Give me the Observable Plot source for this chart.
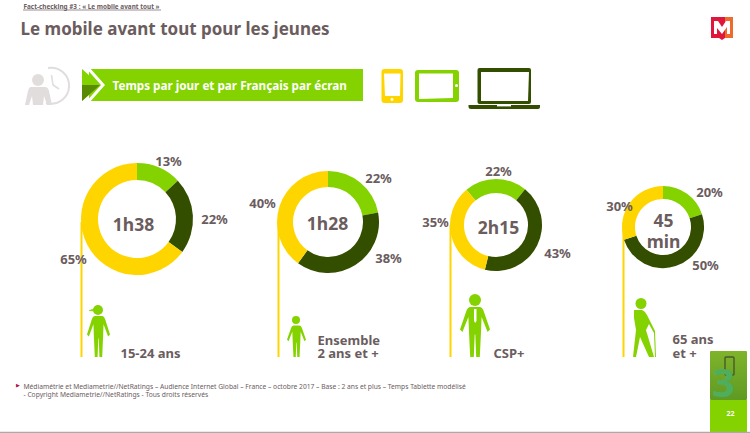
<!DOCTYPE html>
<html><head><meta charset="utf-8">
<script src="https://cdn.jsdelivr.net/npm/d3@7"></script>
<script src="https://cdn.jsdelivr.net/npm/@observablehq/plot@0.6"></script>
<style>html,body{margin:0;padding:0;background:#fff}svg{display:block}</style>
</head><body><div id="chart"></div>
<script>
// ---- data
const profiles = ["15-24 ans", "Ensemble\n2 ans et +", "CSP+", "65 ans\net +"];
const durations = ["1h38", "1h28", "2h15", "45\nmin"];
const tablette = [13, 22, 22, 20];
const ordinateur = [22, 38, 43, 50];
const mobile = [65, 40, 35, 30];
const devices = ["Tablette", "Ordinateur", "Mobile"];
const deviceColors = ["#84d300", "#344e00", "#ffd500"];

// ---- layout, one entry per profile
const centersX = [137, 328, 496, 663];
const centersY = [219, 222, 225, 227];
const outerR = [56, 51, 46, 41];
const innerR = [39, 35, 32, 28];
const startDeg = [0, 0, -40, 0];
const stemX = [81, 278, 450, 623];
const stemTop = [222, 222, 225, 222];
const stemBottom = 357;
const labelOffsets = [
  [[31, -58], [77, 0], [-64, 40]],
  [[50, -44], [60, 36], [-66, -19]],
  [[2, -54], [61, 28], [-61, -3]],
  [[46, -35], [42, 38], [-44, -21]]
];
const durationX = [133, 327, 498, 663];
const durationY = [223, 222, 226, 230];
const profileX = [120, 317, 493, 672];
const profileY = [353, 346.5, 353, 346];

const ink = "#6b5c5e";
const font = "'Noto Sans', sans-serif";

const slices = profiles.flatMap((profile, i) => {
  const shares = [tablette[i], ordinateur[i], mobile[i]];
  const arcs = d3.pie().sort(null).startAngle(startDeg[i] * Math.PI / 180)
    .endAngle((startDeg[i] + 360) * Math.PI / 180)(shares);
  return arcs.map((a, j) => ({
    profile, device: devices[j], share: shares[j],
    label: shares[j] + "%",
    startAngle: a.startAngle, endAngle: a.endAngle,
    cx: centersX[i], cy: centersY[i], inner: innerR[i], outer: outerR[i],
    lx: centersX[i] + labelOffsets[i][j][0], ly: centersY[i] + labelOffsets[i][j][1]
  }));
});

const stems = profiles.map((p, i) => ({x: stemX[i], y1: stemTop[i], y2: stemBottom}));
const centerLabels = durations.map((t, i) => ({t, x: durationX[i], y: durationY[i]}));
const profileLabels = profiles.map((t, i) => ({t, x: profileX[i], y: profileY[i]}));

// ---- donut slices: a dot mark re-rendered as d3 arcs on the plot's scales
const ring = Plot.dot(slices, {
  x: "cx", y: "cy", fill: "device",
  render(index, scales, values) {
    const g = d3.create("svg:g");
    const arc = d3.arc();
    for (const i of index) {
      const s = slices[i];
      g.append("path")
        .attr("d", arc({innerRadius: s.inner, outerRadius: s.outer, startAngle: s.startAngle, endAngle: s.endAngle}))
        .attr("transform", `translate(${values.x[i]},${values.y[i]})`)
        .attr("fill", values.fill[i]);
    }
    return g.node();
  }
});

// ---- decorative pictograms
const standing = "M.35,0L.65,0Q.75,0 .8,.1L1,.45L.92,.5L.72,.2L.70,.5L.66,1L.54,1L.51,.55L.49,.55L.46,1L.34,1L.30,.5L.28,.2L.08,.5L0,.45L.2,.1Q.25,0 .35,0Z";
function pictos() {
  const root = d3.create("svg:g");
  const defs = root.append("defs").append("linearGradient").attr("id", "pan").attr("x1", 0).attr("x2", 0).attr("y1", 0).attr("y2", 1);
  defs.append("stop").attr("offset", 0).attr("stop-color", "#7fb32b");
  defs.append("stop").attr("offset", 1).attr("stop-color", "#5f9a22");
  const path = (d, fill, extra = {}) => {
    const p = root.append("path").attr("d", d).attr("fill", fill);
    for (const k in extra) p.attr(k, extra[k]);
    return p;
  };
  const circle = (cx, cy, r, fill) => root.append("circle").attr("cx", cx).attr("cy", cy).attr("r", r).attr("fill", fill);
  const box = (x, y, w, h, fill, rx = 0, extra = {}) => {
    const p = root.append("rect").attr("x", x).attr("y", y).attr("width", w).attr("height", h).attr("fill", fill).attr("rx", rx);
    for (const k in extra) p.attr(k, extra[k]);
  };
  const person = (x, y, w, h, fill) => path(standing, fill, {transform: `translate(${x},${y}) scale(${w},${h})`});
  const G = deviceColors[0], D = deviceColors[1], Y = deviceColors[2];

  // clock and person
  path("M48,68A18,18 0 1 1 46,103", "none", {stroke: "#e2dddd", "stroke-width": 2});
  path("M51.5,75L53,85L59,89", "none", {stroke: "#e2dddd", "stroke-width": 1.6});
  circle(38, 80, 6, "#e2dddd");
  path("M31,87L45,87Q48,87 49,91L52,105L47,105L44,96L43,105L33,105L32,96L29,105L25,105L28,91Q29,87 31,87Z", "#e2dddd");

  // banner
  box(89, 69, 274, 32, G);
  path("M82,69L100,85L82,101Z", G);
  path("M82,85L100,85L82,101Z", "#5a8a00");
  path("M87,67L103,85L87,103", "none", {stroke: "#fff", "stroke-width": 3});

  // devices
  box(381.5, 69, 21.5, 34, Y, 3);
  path("M384,73.5L400.5,73.5L400,96L385,96Z", "#fff");
  circle(392, 99.5, 1.4, "#fff");
  box(415, 70, 44, 32, G, 3);
  path("M419,73.5L453,73.5L453,98L419,99Z", "#fff");
  circle(456.5, 85.5, 1.5, "#fff");
  box(477.5, 68, 53.5, 36, D, 2);
  path("M481,72L529,72L528,101L481,101Z", "#fff");
  path("M468.5,105L540,105L540,107Q540,109 538,109L471,109Q468.5,109 468.5,107Z", D);
  box(497, 105, 14, 1.4, "#fff");

  // logo
  path("M711,17L733,17L733,38L725,38L722,40L719,38L711,38Z", "#e0173d");
  path("M725,17L733,17L733,38L725,38Z", "#ee6a2d");
  path("M714,34L714,21L718,21L722,27L726,21L730,21L730,34L727,34L727,27L722,34L717,28L717,34Z", "#fff");

  // persons
  circle(98, 310, 5, G);
  path("M89,310.5L94,309L94,311Z", G, {"stroke": G, "stroke-width": .6});
  person(87, 316, 23, 41, G);
  circle(296, 320, 4, G);
  person(287, 325.5, 19, 31.5, G);
  circle(475, 300, 6, G);
  person(460, 307, 30, 50, G);
  path("M474,309L476.5,309L476.5,321L475.2,323L474,321Z", "#fff");
  circle(641, 303.5, 5.5, G);
  path("M634,310L642,310Q645,311 647,315L655,331L656,357L655,357L654,333L649,324L646,330L654,357L649,357L640,337L636,357L633,357L636,330L634,318Z", G);

  // side panel
  box(710, 351, 37, 49, "url(#pan)", 1);
  box(710, 400, 37, 33, G);
  box(725, 357, 9, 18, "none", 1, {stroke: "#4a5a2a", "stroke-width": 1.4});
  return root.node();
}

const texts = (data, o) => Plot.text(data, {text: "t", x: "x", y: "y", fontFamily: font, fontWeight: 700, fill: ink, lineAnchor: "middle", ...o});

const chart = Plot.plot({
  width: 750, height: 433,
  margin: 0,
  x: {domain: [0, 750], range: [0, 750], axis: null},
  y: {domain: [0, 433], range: [0, 433], axis: null},
  color: {domain: devices, range: deviceColors},
  marks: [
    pictos,
    Plot.ruleX(stems, {x: "x", y1: "y1", y2: "y2", stroke: deviceColors[2], strokeWidth: 2}),
    ring,
    Plot.text(slices, {x: "lx", y: "ly", text: "label", fontFamily: font, fontWeight: 700, fontSize: 13, fill: ink, lineAnchor: "middle"}),
    texts(centerLabels, {fontSize: 17.5, lineHeight: 1.25}),
    texts(profileLabels, {fontSize: 13, textAnchor: "start", lineHeight: 1.06}),
    texts([{t: "Le mobile avant tout pour les jeunes", x: 20, y: 29}], {fontSize: 17, textAnchor: "start"}),
    texts([{t: "Fact-checking #3 : « Le mobile avant tout »", x: 23, y: 6.5}], {fontSize: 6.4, textAnchor: "start"}),
    Plot.ruleY([9.5], {x1: 23, x2: 161, stroke: ink, strokeWidth: .7}),
    texts([{t: "Temps par jour et par Français par écran", x: 112, y: 85.5}], {fontSize: 11.7, textAnchor: "start", fill: "#fff"}),
    Plot.text([{t: "Médiamétrie et Mediametrie//NetRatings – Audience Internet Global – France – octobre 2017 – Base : 2 ans et plus – Temps Tablette modélisé", x: 23, y: 386}, {t: "- Copyright Mediametrie//NetRatings - Tous droits réservés", x: 23, y: 394}],
      {text: "t", x: "x", y: "y", fontFamily: font, fontSize: 6.7, fill: ink, textAnchor: "start", lineAnchor: "middle"}),
    Plot.text([{t: "▶", x: 17, y: 385}], {text: "t", x: "x", y: "y", fontSize: 5, fill: "#b01040", lineAnchor: "middle"}),
    texts([{t: "3", x: 723, y: 384}], {fontSize: 40, fill: "#4fae5e"}),
    texts([{t: "22", x: 730, y: 413}], {fontSize: 7, fill: "#fff"}),
    Plot.ruleY([432], {x1: 0, x2: 750, stroke: "#aaaaaa", strokeWidth: 1.5})
  ]
});
document.getElementById("chart").append(chart);
</script></body></html>
